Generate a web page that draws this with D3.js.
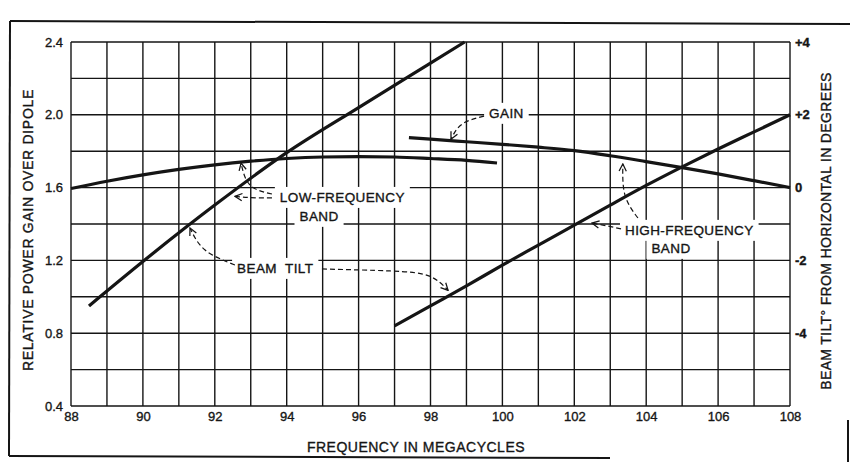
<!DOCTYPE html>
<html><head><meta charset="utf-8">
<script src="https://cdn.jsdelivr.net/npm/d3@7"></script>
<style>
html,body{margin:0;padding:0;background:#fff;}
svg{display:block;font-family:"Liberation Sans",Arial,sans-serif;}
svg text{stroke:#151515;stroke-width:0.35px;}
</style></head>
<body>
<svg id="chart" width="850" height="462"></svg>
<script>
// ---------- data ----------
const xTicks = [88, 90, 92, 94, 96, 98, 100, 102, 104, 106, 108];
const yTicks = [0.4, 0.8, 1.2, 1.6, 2.0, 2.4];
const yTickLabels = ["0.4", "0.8", "1.2", "1.6", "2.0", "2.4"];
const tiltTicks = [4, 2, 0, -2, -4];
const tiltTickLabels = ["+4", "+2", "0", "-2", "-4"];

const lowGainFreq = [88, 89, 90, 91, 92, 93, 94, 95, 96, 97, 98, 99, 99.85];
const lowGain = [1.595, 1.635, 1.67, 1.70, 1.725, 1.745, 1.76, 1.768, 1.77, 1.768, 1.76, 1.75, 1.735];

const lowTiltFreq = [88.5, 90, 92, 94, 96, 98, 98.95];
const lowTilt = [-3.25, -2.03, -0.48, 0.96, 2.2, 3.42, 4.0];

const highGainFreq = [97.4, 98, 99, 100, 101, 102, 103, 104, 105, 106, 107, 108];
const highGain = [1.875, 1.866, 1.852, 1.838, 1.822, 1.803, 1.775, 1.743, 1.71, 1.675, 1.638, 1.60];

const highTiltFreq = [97, 98, 99, 100, 101, 102, 103, 104, 105, 106, 107, 108];
const highTilt = [-3.8, -3.25, -2.7, -2.13, -1.58, -1.03, -0.48, 0.06, 0.57, 1.06, 1.53, 2.0];

// annotation labels (freq, gain) and dashed arrows [[freq,gain] ...]
const labels = [
  {text: "LOW-FREQUENCY", f: 93.81, g: 1.548, anchor: "start"},
  {text: "BAND", f: 94.90, g: 1.444, anchor: "middle"},
  {text: "BEAM  TILT", f: 92.62, g: 1.158, anchor: "start"},
  {text: "GAIN", f: 99.63, g: 2.01, anchor: "start"},
  {text: "HIGH-FREQUENCY", f: 103.41, g: 1.367, anchor: "start"},
  {text: "BAND", f: 104.69, g: 1.268, anchor: "middle"}
];
const arrows = [
  [[93.59, 1.565], [92.98, 1.614], [92.73, 1.735]],
  [[93.59, 1.543], [93.0, 1.545], [92.56, 1.552]],
  [[92.56, 1.175], [91.73, 1.257], [91.31, 1.378]],
  [[94.98, 1.153], [96.87, 1.142], [97.95, 1.115], [98.49, 1.035]],
  [[99.49, 1.993], [98.88, 1.949], [98.57, 1.866]],
  [[103.77, 1.433], [103.41, 1.559], [103.35, 1.73]],
  [[103.3, 1.373], [102.9, 1.39], [102.49, 1.405]]
];

// ---------- scales ----------
const svg = d3.select("#chart");
const x = d3.scaleLinear().domain([88, 108]).range([71, 790]);
const y = d3.scaleLinear().domain([0.4, 2.4]).range([406, 42]);
const yTilt = d3.scaleLinear().domain([-6, 4]).range([406, 42]);
const ink = "#151515";

// frame
const frame = svg.append("g").attr("stroke", ink).attr("stroke-width", 2).attr("fill", "none");
frame.append("line").attr("x1", 10).attr("y1", 21).attr("x2", 850).attr("y2", 24);
frame.append("line").attr("x1", 10).attr("y1", 21).attr("x2", 9).attr("y2", 456);
frame.append("line").attr("x1", 9).attr("y1", 456).attr("x2", 610).attr("y2", 458);
frame.append("line").attr("x1", 848).attr("y1", 420).attr("x2", 848).attr("y2", 462);

// grid
const grid = svg.append("g").attr("stroke", ink).attr("stroke-width", 1.4);
grid.selectAll("line.v").data(d3.range(88, 108.5, 1)).join("line")
  .attr("x1", d => x(d)).attr("x2", d => x(d)).attr("y1", y(2.4)).attr("y2", y(0.4));
grid.selectAll("line.h").data(d3.range(0.4, 2.45, 0.2)).join("line")
  .attr("y1", d => y(d)).attr("y2", d => y(d)).attr("x1", x(88)).attr("x2", x(108));

// axes (text only, no domain)
const axL = d3.axisLeft(y).tickValues(yTicks).tickFormat((d, i) => yTickLabels[i]).tickSize(0).tickPadding(8);
svg.append("g").attr("transform", `translate(${x(88)},0)`).call(axL)
  .call(g => g.select(".domain").remove())
  .selectAll("text").attr("font-size", 13).attr("fill", ink).attr("font-family", "Liberation Sans, Arial");
const axB = d3.axisBottom(x).tickValues(xTicks).tickSize(0).tickPadding(6);
svg.append("g").attr("transform", `translate(0,${y(0.4)})`).call(axB)
  .call(g => g.select(".domain").remove())
  .selectAll("text").attr("font-size", 13).attr("fill", ink).attr("font-family", "Liberation Sans, Arial");
const axR = d3.axisRight(yTilt).tickValues(tiltTicks).tickFormat((d, i) => tiltTickLabels[i]).tickSize(0).tickPadding(5);
svg.append("g").attr("transform", `translate(${x(108)},0)`).call(axR)
  .call(g => g.select(".domain").remove())
  .selectAll("text").attr("font-size", 13).attr("font-weight", "bold").attr("fill", ink).attr("font-family", "Liberation Sans, Arial");

// axis titles
svg.append("text").attr("transform", "translate(33,230) rotate(-90)")
  .attr("text-anchor", "middle").attr("font-size", 14).attr("letter-spacing", 0.7).attr("fill", ink)
  .text("RELATIVE POWER GAIN OVER DIPOLE");
svg.append("text").attr("transform", "translate(831,231) rotate(-90)")
  .attr("text-anchor", "middle").attr("font-size", 14).attr("letter-spacing", 0.35).attr("fill", ink)
  .text("BEAM TILT° FROM HORIZONTAL IN DEGREES");
svg.append("text").attr("x", 416).attr("y", 452)
  .attr("text-anchor", "middle").attr("font-size", 14).attr("letter-spacing", 0.5).attr("fill", ink)
  .text("FREQUENCY IN MEGACYCLES");

// annotation labels with white knock-out behind
const bgLayer = svg.append("g");
const curveLayer = svg.append("g");
const labLayer = svg.append("g");
labels.forEach(l => {
  const t = labLayer.append("text").attr("x", x(l.f)).attr("y", y(l.g))
    .attr("dy", "0.36em").attr("text-anchor", l.anchor)
    .attr("font-size", 13.5).attr("letter-spacing", 0.4).attr("fill", ink)
    .attr("xml:space", "preserve").style("white-space", "pre").text(l.text);
  const b = t.node().getBBox();
  bgLayer.append("rect").attr("x", b.x - 5).attr("y", b.y - 3).attr("width", b.width + 10).attr("height", b.height + 6).attr("fill", "#fff");
});

// curves
const gainLine = d3.line().x(d => x(d[0])).y(d => y(d[1])).curve(d3.curveMonotoneX);
const tiltLine = d3.line().x(d => x(d[0])).y(d => yTilt(d[1])).curve(d3.curveMonotoneX);
const series = [
  {path: gainLine(d3.zip(lowGainFreq, lowGain))},
  {path: tiltLine(d3.zip(lowTiltFreq, lowTilt))},
  {path: gainLine(d3.zip(highGainFreq, highGain))},
  {path: tiltLine(d3.zip(highTiltFreq, highTilt))}
];
curveLayer.selectAll("path").data(series).join("path")
  .attr("d", d => d.path).attr("fill", "none").attr("stroke", ink)
  .attr("stroke-width", 3.2).attr("stroke-linecap", "butt");

// arrows
svg.append("defs").append("marker").attr("id", "ah").attr("viewBox", "0 0 10 10")
  .attr("refX", 9).attr("refY", 5).attr("markerWidth", 9).attr("markerHeight", 9)
  .attr("markerUnits", "userSpaceOnUse").attr("orient", "auto")
  .append("path").attr("d", "M1,1 L9,5 L1,9").attr("fill", "none").attr("stroke", ink).attr("stroke-width", 1.4);
const arrowLine = d3.line().x(d => x(d[0])).y(d => y(d[1])).curve(d3.curveNatural);
svg.append("g").selectAll("path").data(arrows).join("path")
  .attr("d", d => arrowLine(d)).attr("fill", "none").attr("stroke", ink)
  .attr("stroke-width", 1.2).attr("stroke-dasharray", "5,3").attr("marker-end", "url(#ah)");
</script>
</body></html>
